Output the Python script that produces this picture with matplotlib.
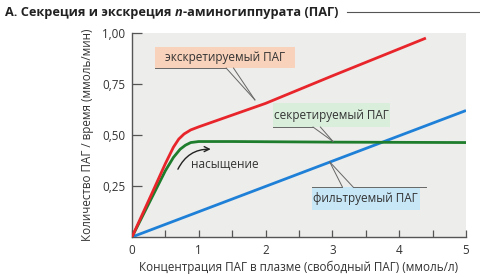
import matplotlib
matplotlib.use("Agg")
import matplotlib.pyplot as plt
from matplotlib.patches import Rectangle, FancyArrowPatch
from matplotlib.lines import Line2D

plt.rcParams['font.family'] = ['Open Sans', 'DejaVu Sans']

# data
x_filt = [0, 5]
y_filt = [0, 0.62]

x_secr = [0, 0.3, 0.5, 0.62, 0.72, 0.8, 0.88, 1.0, 1.5, 3.0, 5.0]
y_secr = [0, 0.195, 0.325, 0.39, 0.43, 0.45, 0.463, 0.468, 0.468, 0.465, 0.463]

x_excr = [0, 0.3, 0.5, 0.62, 0.7, 0.78, 0.88, 1.0, 2.0, 3.0, 4.4]
y_excr = [0, 0.215, 0.36, 0.44, 0.48, 0.505, 0.525, 0.54, 0.655, 0.79, 0.975]

xticks = [0, 1, 2, 3, 4, 5]
yticks = [0.25, 0.5, 0.75, 1.0]
ytick_labels = ['0,25', '0,50', '0,75', '1,00']

c_red = '#e8252b'
c_green = '#1e7d2c'
c_blue = '#1f80d8'
c_text = '#333333'

fig = plt.figure(figsize=(4.81, 2.77), dpi=100)
ax = fig.add_axes([0.2744, 0.1444, 0.6944, 0.7365])
ax.set_facecolor('#ededeb')

ax.plot(x_filt, y_filt, color=c_blue, lw=2.0, solid_capstyle='butt', zorder=3)
ax.plot(x_secr, y_secr, color=c_green, lw=2.0, zorder=3)
ax.plot(x_excr, y_excr, color=c_red, lw=2.0, solid_capstyle='butt', zorder=4)

ax.set_xlim(0, 5)
ax.set_ylim(0, 1)
for s in ['top', 'right']:
    ax.spines[s].set_visible(False)
for s in ['left', 'bottom']:
    ax.spines[s].set_color('#555555')
    ax.spines[s].set_linewidth(1.0)

ax.set_xticks(xticks)
ax.set_xticks([0.5, 1.5, 2.5, 3.5, 4.5], minor=True)
ax.set_yticks(yticks)
ax.set_yticklabels(ytick_labels)
ax.tick_params(axis='x', which='both', direction='in', length=5, width=0.9,
               color='#555555', labelsize=8.4, labelcolor=c_text, pad=5)
ax.tick_params(axis='y', direction='in', length=7, width=0.9,
               color='#555555', labelsize=8.4, labelcolor=c_text, pad=5)

ax.set_xlabel('Концентрация ПАГ в плазме (свободный ПАГ) (ммоль/л)',
              fontsize=8.4, color=c_text, labelpad=3)
ax.set_ylabel('Количество ПАГ / время (ммоль/мин)', fontsize=8.4,
              color=c_text, labelpad=6)


def callout(x0, x1, y0, y1, face, label, edge_y, base, tip):
    ax.add_patch(Rectangle((x0, y0), x1 - x0, y1 - y0, facecolor=face,
                           edgecolor='none', zorder=5))
    ax.text((x0 + x1) / 2, (y0 + y1) / 2, label, ha='center', va='center',
            fontsize=8.5, color=c_text, zorder=6)
    ax.plot([x0, base[0]], [edge_y, edge_y], color='#666666', lw=0.7, zorder=6)
    if len(base) > 2:
        ax.plot([base[1], base[2]], [edge_y, edge_y], color='#666666', lw=0.7, zorder=6)
    ax.plot([base[0], tip[0]], [edge_y, tip[1]], color='#666666', lw=0.7, zorder=6)
    ax.plot([base[1], tip[0]], [edge_y, tip[1]], color='#666666', lw=0.7, zorder=6)


callout(0.34, 2.44, 0.828, 0.93, '#f8d2bb', 'экскретируемый ПАГ', 0.828,
        (1.41, 1.52), (1.84, 0.672))
callout(2.11, 3.86, 0.539, 0.655, '#d9efdc', 'секретируемый ПАГ', 0.539,
        (2.71, 2.82), (3.01, 0.468))
callout(2.69, 4.31, 0.132, 0.245, '#c8e7f6', 'фильтруемый ПАГ', 0.245,
        (3.15, 3.31, 4.4), (2.96, 0.368))

arr = FancyArrowPatch((0.67, 0.32), (1.22, 0.43),
                      connectionstyle='arc3,rad=-0.35', arrowstyle='->',
                      mutation_scale=9, color='#222222', lw=1.0, zorder=6)
ax.add_patch(arr)
ax.text(0.88, 0.355, 'насыщение', fontsize=8.5, color=c_text,
        va='center', ha='left', zorder=6)

# title with italic "п"
fig.canvas.draw()
r = fig.canvas.get_renderer()
parts = [('А. Секреция и экскреция ', 'normal'), ('п', 'italic'),
         ('-аминогиппурата (ПАГ)', 'normal')]
xpos = 0.011
ty = 0.955
for txt, st in parts:
    t = fig.text(xpos, ty, txt, fontsize=9.2, fontweight='bold', style=st,
                 color='#222222', va='center', ha='left')
    bb = t.get_window_extent(renderer=r)
    xpos += bb.width / fig.bbox.width
fig.add_artist(Line2D([xpos + 0.018, 1.0], [ty, ty], color='#555555', lw=0.8))

fig.savefig('out.png', dpi=100)
